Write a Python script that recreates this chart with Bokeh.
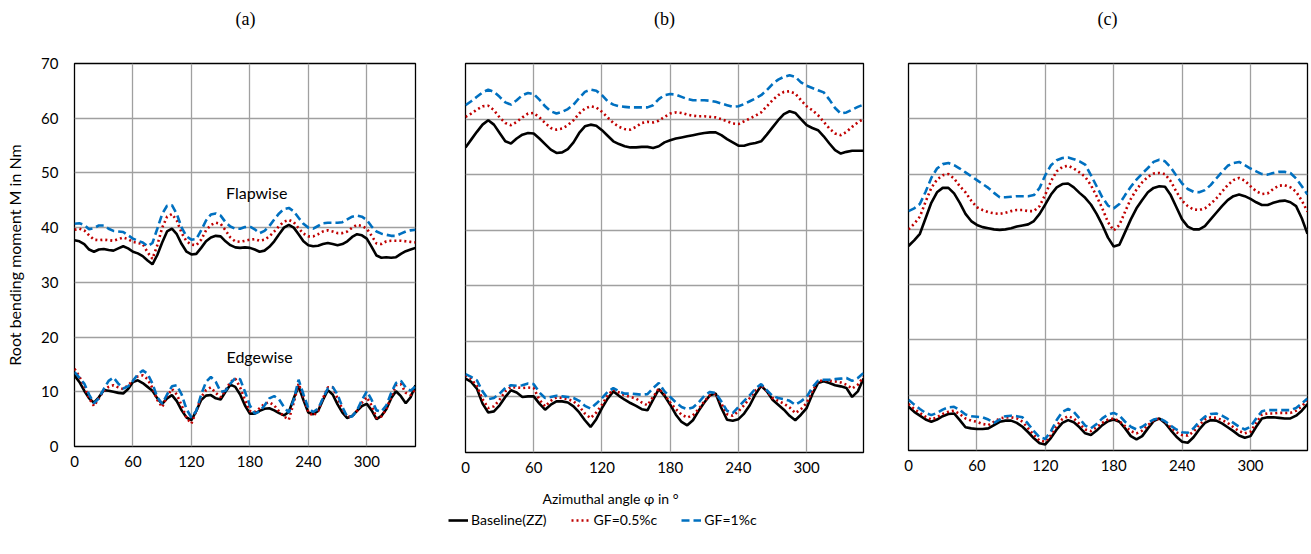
import numpy as np
from bokeh.plotting import figure
from bokeh.layouts import row, column
from bokeh.models import Label, Legend, LegendItem, Range1d, FixedTicker
from bokeh.embed import file_html
from bokeh.resources import INLINE

angle = [0, 5, 10, 15, 20, 25, 30, 35, 40, 45, 50, 55, 60, 65, 70, 75, 80, 85, 90, 95,
         100, 105, 110, 115, 120, 125, 130, 135, 140, 145, 150, 155, 160, 165, 170, 175,
         180, 185, 190, 195, 200, 205, 210, 215, 220, 225, 230, 235, 240, 245, 250, 255,
         260, 265, 270, 275, 280, 285, 290, 295, 300, 305, 310, 315, 320, 325, 330, 335,
         340, 345, 350]

x_ticks = [0, 60, 120, 180, 240, 300]
y_ticks = [0, 10, 20, 30, 40, 50, 60, 70]
panel_titles = ["(a)", "(b)", "(c)"]
series_names = ["Baseline(ZZ)", "GF=0.5%c", "GF=1%c"]

# ---------------- panel (a) ----------------
a_flap_base = [37.7, 37.5, 37.0, 36.0, 35.6, 36.0, 36.1, 35.9, 35.8, 36.2, 36.6, 36.2, 35.6, 35.3, 34.8, 34.0,
               33.3, 35.0, 37.3, 39.3, 39.8, 38.8, 37.0, 35.6, 35.1, 35.2, 36.3, 37.5, 38.2, 38.5, 38.4, 37.5,
               36.8, 36.4, 36.3, 36.4, 36.3, 36.0, 35.6, 35.8, 36.5, 37.5, 38.8, 40.0, 40.5, 40.0, 38.8, 37.5,
               36.8, 36.6, 36.7, 37.0, 37.2, 37.0, 36.8, 37.0, 37.5, 38.3, 38.8, 38.6, 38.0, 36.5, 34.9, 34.5,
               34.6, 34.5, 34.6, 35.2, 35.7, 36.0, 36.3]
a_flap_gf05 = [39.6, 39.8, 39.5, 38.6, 37.8, 37.7, 37.8, 37.7, 37.6, 37.9, 38.2, 37.9, 37.4, 37.2, 37.0, 35.5,
               34.3, 36.8, 40.0, 42.0, 42.5, 41.3, 39.0, 37.5, 36.9, 36.8, 37.8, 39.5, 40.5, 40.9, 40.7, 39.5,
               38.2, 37.5, 37.4, 37.6, 37.8, 37.9, 37.6, 37.8, 38.4, 39.3, 40.3, 41.1, 41.4, 41.0, 39.9, 38.9,
               38.4, 38.4, 38.8, 39.3, 39.5, 39.3, 39.0, 39.0, 39.3, 40.0, 40.5, 40.3, 39.8, 38.5, 37.1, 37.0,
               37.5, 37.6, 37.6, 37.6, 37.5, 37.4, 37.3]
a_flap_gf1 = [40.7, 40.8, 40.5, 39.7, 39.9, 40.4, 40.4, 39.8, 39.4, 39.3, 39.2, 38.6, 38.0, 37.6, 37.3, 36.6,
              37.2, 39.8, 42.5, 44.0, 44.1, 42.5, 40.0, 38.4, 37.8, 37.9, 39.5, 41.3, 42.4, 42.6, 42.2, 41.0,
              40.2, 39.8, 39.8, 40.1, 40.2, 39.7, 39.0, 39.4, 40.3, 41.5, 42.6, 43.4, 43.6, 43.0, 41.8, 40.7,
              40.0, 39.8, 40.3, 40.8, 40.9, 40.9, 40.9, 41.0, 41.5, 42.0, 42.2, 42.0, 41.4, 40.2, 39.3, 38.9,
              38.7, 38.5, 38.5, 38.9, 39.3, 39.5, 39.6]
a_edge_base = [13.0, 11.8, 10.2, 8.8, 8.0, 9.0, 10.3, 10.2, 10.0, 9.8, 9.7, 10.5, 11.8, 12.1, 11.6, 10.9,
               10.2, 8.8, 7.8, 8.8, 9.4, 8.3, 6.6, 5.3, 4.8, 6.5, 8.5, 9.3, 9.4, 8.8, 8.6, 10.0,
               11.3, 10.9, 9.5, 7.5, 6.0, 6.0, 6.5, 6.9, 7.0, 6.6, 6.1, 5.7, 6.3, 8.8, 11.0, 8.5,
               6.2, 5.9, 6.5, 8.5, 10.3, 9.5, 7.7, 6.2, 5.2, 5.6, 6.5, 7.4, 7.8, 6.6, 5.0, 5.6,
               6.8, 8.8, 10.1, 9.2, 7.9, 9.0, 11.2]
a_edge_gf05 = [14.2, 12.8, 11.0, 8.8, 7.4, 8.8, 10.2, 10.9, 11.2, 10.8, 10.5, 11.2, 12.0, 12.8, 13.0, 12.3,
               10.7, 8.5, 7.2, 9.2, 10.5, 9.5, 7.5, 5.2, 4.2, 6.5, 9.0, 10.3, 10.8, 9.8, 9.0, 10.3,
               11.8, 12.4, 10.8, 8.5, 6.5, 6.3, 7.0, 7.8, 8.1, 7.5, 6.4, 5.5, 4.9, 8.0, 11.5, 9.0,
               6.3, 5.6, 6.5, 8.8, 10.8, 10.8, 8.8, 6.8, 5.4, 5.5, 6.5, 8.0, 9.0, 7.5, 5.2, 5.5,
               6.8, 9.0, 11.2, 11.4, 9.8, 9.4, 10.5]
a_edge_gf1 = [13.6, 12.6, 11.5, 9.5, 7.9, 8.8, 10.5, 12.0, 12.6, 11.5, 10.6, 11.0, 12.0, 13.2, 13.9, 13.3,
              11.5, 9.0, 7.8, 9.5, 11.0, 11.2, 9.5, 6.8, 5.3, 6.5, 9.5, 11.8, 12.7, 11.8, 10.0, 10.2,
              11.5, 12.5, 12.3, 10.0, 7.5, 6.0, 6.4, 7.5, 8.8, 9.2, 8.6, 7.2, 6.2, 8.5, 12.2, 9.5,
              7.0, 6.3, 6.9, 8.8, 10.6, 10.9, 9.5, 7.2, 5.4, 5.5, 6.6, 8.5, 10.1, 8.5, 6.6, 6.4,
              7.5, 9.8, 11.6, 12.0, 10.8, 10.2, 11.0]

# ---------------- panel (b) ----------------
b_flap_base = [54.9, 56.3, 57.7, 59.0, 59.8, 59.0, 57.5, 56.0, 55.6, 56.5, 57.2, 57.5, 57.4, 56.5, 55.5, 54.5,
               53.9, 54.0, 54.6, 55.8, 57.5, 58.7, 59.0, 58.8, 58.0, 57.0, 56.0, 55.5, 55.1, 54.9, 54.9, 55.0,
               55.0, 54.8, 55.1, 55.8, 56.2, 56.5, 56.7, 56.9, 57.1, 57.3, 57.5, 57.6, 57.6, 57.1, 56.4, 55.8,
               55.2, 55.2, 55.5, 55.7, 56.0, 57.2, 58.5, 59.8, 60.9, 61.4, 61.1, 60.0, 58.9, 58.4, 58.0, 56.9,
               55.6, 54.4, 53.8, 54.1, 54.3, 54.3, 54.3]
b_flap_gf05 = [60.4, 61.0, 61.7, 62.3, 62.4, 61.6, 60.3, 59.3, 58.9, 59.5, 60.3, 61.0, 61.1, 60.3, 59.3, 58.4,
               58.1, 58.3, 58.9, 59.8, 61.0, 61.9, 62.3, 62.1, 61.3, 60.3, 59.3, 58.6, 58.2, 58.1, 58.6, 59.3,
               59.5, 59.4, 59.7, 60.4, 61.0, 61.2, 61.1, 60.8, 60.6, 60.5, 60.5, 60.4, 60.3, 60.0, 59.6, 59.2,
               59.1, 59.6, 60.1, 60.6, 61.2, 62.3, 63.4, 64.3, 64.9, 65.0, 64.6, 63.4, 62.3, 61.6, 60.7, 59.5,
               58.3, 57.4, 57.1, 57.7, 58.6, 59.4, 60.0]
b_flap_gf1 = [62.5, 63.2, 64.0, 64.8, 65.3, 64.9, 64.0, 63.0, 62.6, 63.4, 64.3, 64.7, 64.5, 63.5, 62.3, 61.4,
              61.0, 61.3, 61.8, 62.6, 63.8, 64.9, 65.3, 65.1, 64.3, 63.2, 62.6, 62.3, 62.2, 62.1, 62.1, 62.1,
              62.1, 62.5, 63.6, 64.3, 64.5, 64.4, 64.0, 63.6, 63.4, 63.4, 63.4, 63.3, 63.1, 62.8, 62.5, 62.2,
              62.3, 62.7, 63.2, 63.7, 64.3, 65.2, 66.3, 67.1, 67.6, 67.9, 67.6, 66.6, 66.0, 65.6, 65.2, 64.8,
              63.5, 62.0, 61.0, 61.2, 61.7, 62.2, 62.6]
b_edge_base = [13.3, 12.7, 11.5, 8.8, 7.2, 7.4, 8.5, 10.0, 11.2, 10.8, 10.0, 10.1, 10.1, 8.8, 7.7, 8.6,
               9.2, 9.2, 9.0, 8.3, 7.2, 5.8, 4.6, 6.0, 8.0, 9.7, 11.0, 10.2, 9.5, 8.9, 8.4, 7.8,
               7.6, 9.5, 11.4, 10.2, 8.6, 6.8, 5.5, 4.9, 5.8, 7.5, 9.0, 10.3, 10.6, 8.0, 5.9, 5.7,
               6.0, 7.0, 8.5, 10.5, 12.0, 11.0, 9.5, 8.6, 7.7, 6.6, 5.8, 6.8, 8.0, 10.5, 12.5, 12.8,
               12.5, 12.1, 11.9, 11.6, 10.0, 11.0, 13.3]
b_edge_gf05 = [13.9, 13.2, 12.0, 9.6, 8.0, 8.3, 9.5, 11.0, 11.8, 11.7, 11.6, 11.7, 11.6, 9.5, 8.3, 9.3,
               9.9, 9.8, 9.6, 9.2, 8.3, 7.0, 6.2, 7.2, 8.6, 10.3, 11.3, 10.8, 10.3, 10.0, 9.7, 9.0,
               8.5, 10.0, 11.5, 10.4, 9.0, 7.8, 6.8, 6.3, 6.7, 7.8, 9.2, 10.3, 10.6, 8.8, 6.9, 6.6,
               7.4, 8.5, 9.8, 11.2, 12.1, 11.0, 9.8, 9.3, 8.8, 8.1, 7.1, 7.8, 8.9, 11.0, 12.8, 13.0,
               12.9, 12.8, 12.6, 12.2, 11.5, 12.2, 13.6]
b_edge_gf1 = [14.1, 13.6, 13.0, 11.0, 9.6, 9.8, 10.6, 11.6, 12.1, 12.0, 12.1, 12.4, 12.3, 10.8, 9.8, 10.0,
              10.2, 10.1, 10.0, 9.8, 9.3, 8.4, 7.9, 8.8, 9.8, 10.9, 11.6, 11.0, 10.6, 10.6, 10.5, 10.4,
              10.5, 11.6, 12.5, 11.0, 10.0, 9.0, 8.2, 7.8, 8.1, 9.0, 10.2, 10.9, 10.7, 9.2, 7.5, 7.1,
              8.2, 9.3, 10.3, 11.5, 12.3, 11.2, 10.2, 9.8, 9.6, 9.3, 8.6, 9.2, 10.0, 11.7, 12.9, 13.1,
              13.1, 13.2, 13.3, 13.4, 12.9, 13.4, 14.3]

# ---------------- panel (c) ----------------
c_flap_base = [37.0, 38.0, 39.2, 42.0, 44.8, 46.7, 47.5, 47.5, 46.5, 44.8, 42.8, 41.5, 40.8, 40.4, 40.2, 40.0,
               39.9, 40.0, 40.2, 40.5, 40.7, 40.9, 41.5, 42.8, 44.5, 46.3, 47.6, 48.2, 48.3, 47.6, 46.6, 45.7,
               44.5, 42.8, 40.8, 38.5, 36.9, 37.2, 39.5, 41.8, 43.8, 45.3, 46.7, 47.5, 47.8, 47.7, 46.2, 44.0,
               41.8, 40.5, 40.0, 40.0, 40.6, 41.8, 43.0, 44.2, 45.3, 46.0, 46.3, 46.0, 45.5, 44.9, 44.4, 44.4,
               44.8, 45.1, 45.2, 44.9, 44.2, 42.0, 39.2]
c_flap_gf05 = [40.0, 41.0, 42.3, 45.0, 47.5, 49.0, 49.8, 50.0, 49.2, 47.8, 46.7, 45.2, 44.0, 43.5, 43.1, 42.9,
               42.8, 43.0, 43.3, 43.5, 43.5, 43.3, 43.3, 44.2, 46.3, 48.7, 50.5, 51.3, 51.5, 51.0, 50.3, 49.5,
               48.0, 46.0, 43.8, 41.3, 39.8, 40.8, 43.2, 45.5, 47.2, 48.5, 49.5, 50.1, 50.2, 50.0, 48.7, 46.8,
               45.2, 44.2, 43.6, 43.5, 43.8, 44.6, 45.6, 46.8, 48.0, 48.9, 49.3, 48.8, 47.8, 46.9, 46.4, 46.5,
               47.3, 47.9, 48.0, 47.6, 46.8, 45.2, 43.2]
c_flap_gf1 = [43.3, 43.8, 44.6, 46.8, 49.3, 51.0, 51.8, 52.0, 51.6, 51.0, 50.3, 49.6, 48.9, 48.2, 47.5, 46.6,
              45.8, 45.8, 45.9, 46.0, 46.0, 46.0, 46.2, 47.5, 49.8, 51.6, 52.5, 52.9, 53.0, 52.7, 52.3, 51.7,
              49.8, 47.8, 45.8, 44.3, 43.8, 44.6, 46.2, 47.7, 49.0, 50.1, 51.1, 52.2, 52.6, 52.3, 51.2, 49.7,
              48.3, 47.3, 46.8, 46.7, 47.1, 48.0, 49.2, 50.4, 51.5, 52.0, 52.2, 51.6, 51.0, 50.5, 50.0, 49.9,
              50.2, 50.4, 50.4, 50.2, 49.2, 47.8, 46.3]
c_edge_base = [7.9, 7.0, 6.3, 5.6, 5.2, 5.6, 6.2, 6.6, 6.7, 5.5, 4.2, 4.0, 3.9, 3.9, 4.0, 4.6,
               5.2, 5.4, 5.4, 5.0, 4.3, 3.3, 2.2, 1.3, 1.1, 2.3, 3.8, 5.0, 5.5, 5.1, 4.2, 3.1,
               2.8, 3.6, 4.6, 5.3, 5.6, 5.2, 4.0, 2.6, 2.0, 2.6, 4.0, 5.3, 5.8, 5.0, 3.7, 2.5,
               1.6, 1.4, 2.4, 3.8, 5.0, 5.5, 5.4, 4.9, 4.2, 3.5, 2.7, 2.3, 2.6, 4.3, 5.8, 6.0,
               6.0, 5.9, 5.8, 5.8, 6.3, 7.2, 8.4]
c_edge_gf05 = [8.4, 7.5, 6.8, 6.1, 5.6, 6.0, 6.6, 7.0, 7.2, 6.6, 5.8, 5.4, 5.2, 4.8, 4.6, 5.2,
               5.8, 6.0, 6.0, 5.8, 5.2, 4.0, 2.8, 1.8, 1.6, 2.8, 4.5, 5.7, 6.2, 5.8, 4.8, 3.8,
               3.5, 4.2, 5.0, 5.6, 5.8, 5.3, 4.4, 3.5, 3.1, 3.6, 4.6, 5.4, 5.8, 5.2, 4.2, 3.3,
               2.8, 2.7, 3.4, 4.6, 5.6, 6.0, 5.9, 5.5, 5.0, 4.2, 3.5, 3.1, 3.4, 5.0, 6.5, 6.7,
               6.7, 6.8, 6.8, 6.8, 7.2, 8.0, 9.1]
c_edge_gf1 = [9.2, 8.3, 7.5, 6.8, 6.4, 6.8, 7.4, 7.8, 7.9, 7.3, 6.5, 6.2, 6.1, 6.0, 5.6, 5.0,
              5.6, 6.2, 6.3, 6.2, 6.0, 4.8, 3.5, 2.4, 2.1, 3.5, 5.5, 7.0, 7.5, 7.0, 5.8, 4.5,
              4.0, 4.8, 5.8, 6.5, 6.8, 6.3, 5.2, 4.3, 3.8, 4.3, 5.0, 5.6, 5.8, 5.3, 4.5, 3.8,
              3.3, 3.2, 4.0, 5.2, 6.1, 6.6, 6.7, 6.3, 5.7, 5.0, 4.3, 3.8, 4.3, 5.8, 7.1, 7.3,
              7.3, 7.3, 7.3, 7.3, 7.7, 8.5, 9.4]

FONT = "Lato"
STYLES = [dict(line_color="black", line_width=2.6),
          dict(line_color="#c00000", line_width=2.6, line_dash="2 3"),
          dict(line_color="#0070c0", line_width=2.6, line_dash="8 4")]

TOP_H = 40   # title strip
BOT_H = 74   # axis-title / legend strip


def strip(height):
    s = figure(width=1311, height=height, x_range=Range1d(0, 1311), y_range=Range1d(0, height),
               min_border=0, x_axis_type=None, y_axis_type=None,
               output_backend="svg", toolbar_location=None)
    s.outline_line_color = None
    s.grid.visible = False
    return s


def make_panel(series, frame_w, frame_h, left, right, top, bottom, show_y):
    p = figure(width=left + frame_w + right, height=top + frame_h + bottom,
               frame_width=frame_w, frame_height=frame_h,
               min_border_left=left, min_border_right=right,
               min_border_top=top, min_border_bottom=bottom,
               x_range=Range1d(0, 350), y_range=Range1d(0, 70),
               output_backend="svg", toolbar_location=None)
    p.outline_line_color = "black"
    p.outline_line_width = 1.3
    p.outline_line_alpha = 1.0

    p.xaxis.ticker = FixedTicker(ticks=x_ticks)
    p.xaxis.major_tick_out = 0
    p.xaxis.major_tick_in = 0
    p.xaxis.minor_tick_line_color = None
    p.xaxis.axis_line_color = None
    p.xaxis.major_label_standoff = 9
    p.xaxis.major_label_text_font = FONT
    p.xaxis.major_label_text_font_size = "15px"
    p.xaxis.major_label_text_color = "black"

    p.xgrid.ticker = FixedTicker(ticks=x_ticks)
    p.ygrid.ticker = FixedTicker(ticks=y_ticks)
    for g in (p.xgrid, p.ygrid):
        g.grid_line_color = "#a0a0a0"
        g.grid_line_width = 1.3

    if show_y:
        p.yaxis.ticker = FixedTicker(ticks=y_ticks)
        p.yaxis.major_tick_out = 0
        p.yaxis.major_tick_in = 0
        p.yaxis.minor_tick_line_color = None
        p.yaxis.axis_line_color = None
        p.yaxis.major_label_standoff = 16
        p.yaxis.major_label_text_font = FONT
        p.yaxis.major_label_text_font_size = "15px"
        p.yaxis.major_label_text_color = "black"
        p.yaxis.axis_label = "Root bending moment M in Nm"
        p.yaxis.axis_label_text_font = FONT
        p.yaxis.axis_label_text_font_size = "16px"
        p.yaxis.axis_label_text_font_style = "normal"
        p.yaxis.axis_label_text_color = "black"
        p.yaxis.axis_label_standoff = 14
    else:
        p.yaxis.visible = False

    for vals, st in zip(series, STYLES * 2):
        p.line(angle, vals, **st)
    return p


pa = make_panel([a_flap_base, a_flap_gf05, a_flap_gf1, a_edge_base, a_edge_gf05, a_edge_gf1],
                341, 383, 74, 25, 63 - TOP_H, 34, True)
pb = make_panel([b_flap_base, b_flap_gf05, b_flap_gf1, b_edge_base, b_edge_gf05, b_edge_gf1],
                398, 389, 25, 10, 59 - TOP_H, 32, False)
pc = make_panel([c_flap_base, c_flap_gf05, c_flap_gf1, c_edge_base, c_edge_gf05, c_edge_gf1],
                399, 387, 35, 4, 60 - TOP_H, 33, False)

pa.add_layout(Label(x=187, y=46.4, text="Flapwise", text_align="center", text_baseline="middle",
                    text_font=FONT, text_font_size="16px", text_color="black"))
pa.add_layout(Label(x=190, y=16.4, text="Edgewise", text_align="center", text_baseline="middle",
                    text_font=FONT, text_font_size="16px", text_color="black"))

# top strip: panel titles centred over each frame
ptop = strip(TOP_H)
for t, cx in zip(panel_titles, [245, 664, 1107]):
    ptop.add_layout(Label(x=cx, y=TOP_H - 18, text=t, text_align="center", text_baseline="middle",
                          text_font="Liberation Serif", text_font_size="18px", text_color="black"))

# bottom strip: axis title + legend
pbot = strip(BOT_H)
pbot.add_layout(Label(x=610, y=BOT_H - 18, text="Azimuthal angle \u03c6 in \u00b0", text_align="center",
                      text_baseline="middle", text_font=FONT, text_font_size="14px",
                      text_color="black"))
items = []
for name, st in zip(series_names, STYLES):
    r = pbot.line(np.array([np.nan]), np.array([np.nan]), **st)
    items.append(LegendItem(label=name, renderers=[r]))
leg = Legend(items=items, location=(448, 26), orientation="horizontal",
             background_fill_alpha=0, border_line_color=None, padding=0, margin=0,
             spacing=24, glyph_width=20, glyph_height=14, label_standoff=3,
             label_text_font=FONT, label_text_font_size="14px", label_text_color="black")
pbot.add_layout(leg)

layout = column(ptop, row(pa, pb, pc), pbot)
open("out.html", "w").write(file_html(layout, INLINE))
